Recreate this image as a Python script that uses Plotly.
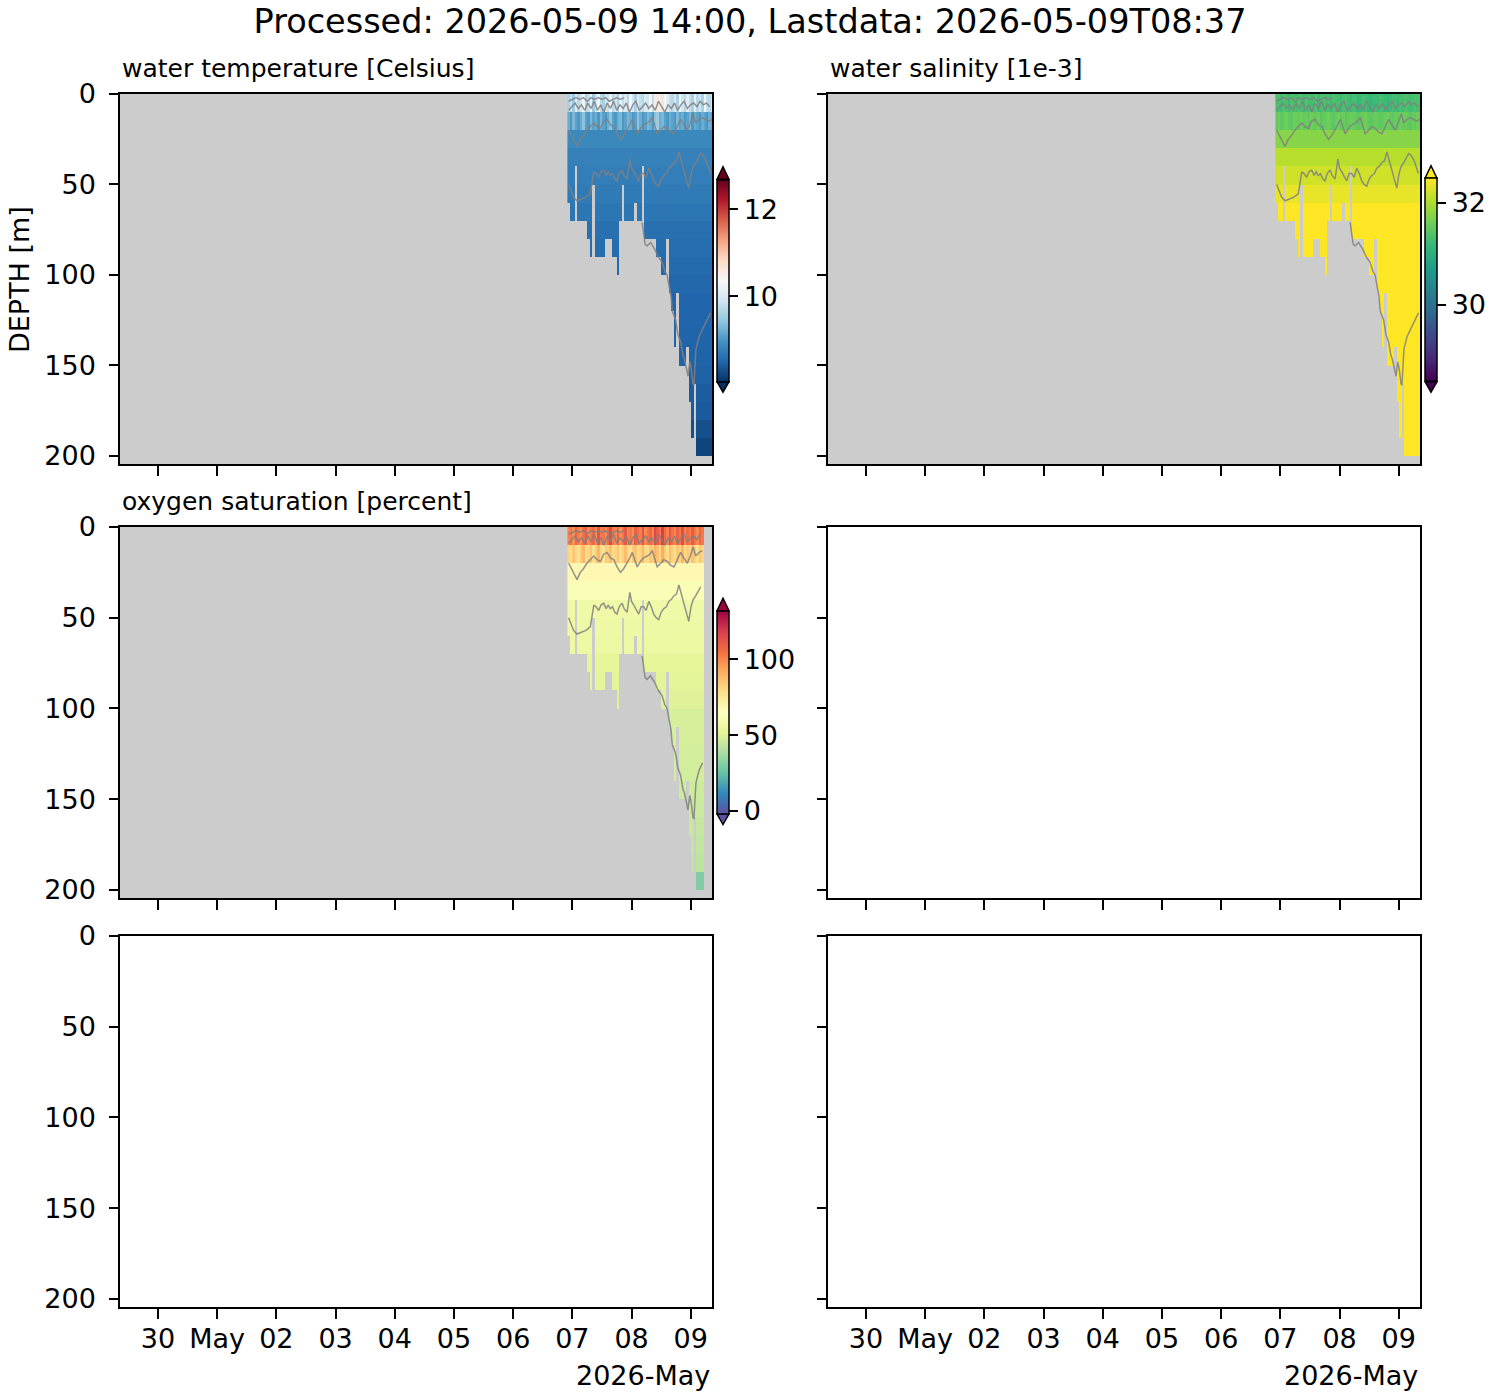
import pandas as pd
import plotly.graph_objects as go
import plotly.colors as pc

W, H = 1500, 1400

# profile columns: hours after 2026-05-06 00:00
profile_hours = [22.5, 23.5, 24.5, 25.5, 26.5, 27.5, 28.5, 29.5, 30.5, 31.5,
                 32.5, 33.5, 34.5, 35.5, 36.5, 37.5, 38.5, 39.5, 40.5, 41.5,
                 42.5, 43.5, 44.5, 45.5, 46.5, 47.5, 48.5, 49.5, 50.5, 51.5,
                 52.5, 53.5, 54.5, 55.5, 56.5, 57.5, 58.5, 59.5, 60.5, 61.5,
                 62.5, 63.5, 64.5, 65.5, 66.5, 67.5, 68.5, 69.5, 70.5, 71.5,
                 72.5, 73.5, 74.5, 75.5, 76.5, 77.5, 78.5, 79.5, 80.5]
profile_maxdepth = [60, 70, 70, 70, 70, 70, 70, 70, 80, 90,
                    90, 90, 90, 90, 90, 80, 80, 80, 90, 90,
                    100, 70, 70, 70, 70, 70, 70, 70, 70, 70,
                    80, 80, 80, 80, 80, 80, 90, 90, 100, 100,
                    110, 110, 120, 140, 140, 150, 150, 150, 150, 170,
                    190, 190, 200, 200, 200, 200, 200, 200, 200]
# profiles with missing data below a given depth (hour, depth)
gap_hours = [25.5, 32.5, 44.5, 49.5, 52.5, 62.5, 66.5, 70.5, 73.5]
gap_depths = [40, 50, 50, 55, 40, 80, 110, 140, 160]

depth_bins = [5, 15, 25, 35, 45, 55, 65, 75, 85, 95,
              105, 115, 125, 135, 145, 155, 165, 175, 185, 195]

# values by depth bin from 20 m down (first two bins come from the per-profile lists)
temp_by_depth = [None, None, 8.85, 8.78, 8.74, 8.7, 8.66, 8.6, 8.57, 8.54,
                 8.52, 8.5, 8.5, 8.48, 8.47, 8.45, 8.42, 8.4, 8.3, 8.2]
sal_by_depth = [None, None, 31.75, 32.05, 32.2, 32.35, 32.55, 32.7, 32.8, 32.9,
                33.0, 33.1, 33.2, 33.3, 33.4, 33.5, 33.6, 33.7, 33.8, 33.9]
oxy_by_depth = [None, None, 68, 62, 57, 56, 55, 52, 51, 50,
                48, 48, 47, 47, 46, 45, 44, 43, 42, 30]

# 0-10 m bin per profile
temp_surface = [9.6, 9.8, 9.5, 10.1, 9.7, 9.9, 10.3, 9.6, 9.8, 10.2,
                9.5, 9.9, 10.4, 9.7, 9.6, 10.0, 9.8, 10.3, 9.7, 9.9,
                9.6, 10.2, 9.8, 10.0, 9.7, 10.4, 9.9, 9.6, 10.1, 9.8,
                9.7, 10.0, 9.9, 10.3, 9.8, 10.5, 10.6, 10.2, 10.7, 10.4,
                10.1, 9.8, 9.7, 10.0, 9.6, 10.3, 9.9, 9.7, 10.1, 9.8,
                9.6, 10.2, 9.7, 9.9, 9.6, 10.3, 9.8, 9.7, 9.9]
sal_surface = [31.3, 31.35, 31.25, 31.4, 31.3, 31.2, 31.35, 31.3, 31.25, 31.4,
               31.3, 31.2, 31.35, 31.3, 31.25, 31.3, 31.4, 31.2, 31.3, 31.35,
               31.25, 31.3, 31.2, 31.35, 31.3, 31.25, 31.2, 31.3, 31.35, 31.25,
               31.2, 31.3, 31.25, 31.15, 31.2, 31.3, 31.25, 31.2, 31.15, 31.2,
               31.25, 31.2, 31.3, 31.25, 31.2, 31.15, 31.2, 31.3, 31.25, 31.2,
               31.3, 31.25, 31.35, 31.3, 31.25, 31.3, 31.35, 31.3, 31.3]
oxy_surface = [100, 104, 98, 108, 102, 97, 105, 110, 99, 103,
               107, 98, 112, 101, 104, 99, 106, 115, 102, 100,
               108, 97, 104, 111, 100, 103, 98, 109, 105, 101,
               113, 99, 104, 107, 100, 116, 110, 103, 118, 106,
               101, 112, 104, 99, 108, 103, 114, 100, 106, 102,
               110, 104, 99, 107, 103, None, None, None, None]
# 10-20 m bin per profile
temp_second = [9.2, 9.0, 9.3, 9.1, 9.0, 9.2, 9.4, 9.1, 9.0, 9.3,
               9.1, 9.2, 9.0, 9.3, 9.1, 9.0, 9.2, 9.4, 9.1, 9.0,
               9.2, 9.3, 9.0, 9.1, 9.3, 9.2, 9.0, 9.1, 9.4, 9.2,
               9.0, 9.1, 9.3, 9.2, 9.0, 9.4, 9.5, 9.2, 9.3, 9.1,
               9.0, 9.2, 9.1, 9.0, 9.3, 9.1, 9.2, 9.0, 9.1, 9.3,
               9.0, 9.2, 9.1, 9.0, 9.2, 9.1, 9.0, 9.2, 9.1]
sal_second = [31.5, 31.6, 31.45, 31.55, 31.6, 31.5, 31.45, 31.6, 31.55, 31.5,
              31.6, 31.5, 31.55, 31.45, 31.6, 31.5, 31.55, 31.6, 31.45, 31.5,
              31.55, 31.6, 31.5, 31.45, 31.55, 31.6, 31.5, 31.55, 31.45, 31.5,
              31.6, 31.55, 31.5, 31.45, 31.5, 31.55, 31.6, 31.5, 31.45, 31.5,
              31.55, 31.5, 31.45, 31.5, 31.55, 31.6, 31.5, 31.45, 31.55, 31.5,
              31.6, 31.5, 31.55, 31.5, 31.45, 31.55, 31.5, 31.6, 31.5]
oxy_second = [82, 78, 85, 80, 77, 84, 88, 79, 81, 86,
              78, 83, 90, 80, 77, 84, 82, 87, 79, 81,
              85, 78, 83, 88, 80, 77, 84, 86, 79, 82,
              89, 80, 78, 85, 83, 91, 87, 80, 92, 84,
              79, 88, 82, 78, 85, 81, 90, 79, 84, 80,
              87, 82, 78, 85, 81, None, None, None, None]

# gray contour lines (hours, depth)
line_a_h = [22.5, 23.5, 24.5, 25.9, 27.5, 29.5, 31.3, 32.0, 32.7, 33.6,
            34.7, 35.6, 36.7, 37.7, 38.5, 39.4, 40.3, 41.2, 42.1, 43.0,
            44.2, 45.0, 46.2, 47.3, 48.0, 48.9, 49.8, 50.9, 51.9, 52.9,
            53.9, 55.0, 56.0, 57.0, 58.0, 59.0, 60.0, 61.1, 62.1, 63.1,
            64.1, 65.1, 66.2, 67.2, 68.2, 69.2, 70.2, 71.2, 72.1, 73.0,
            74.0, 75.0, 76.0, 77.0, 78.0, 79.0, 80.0]
line_a_d = [50, 53, 57, 59, 58, 57, 55, 48, 43, 44,
            46, 43, 42, 45, 43, 45, 44, 47, 48, 44,
            42, 45, 47, 36, 41, 43, 45, 48, 44, 44,
            46, 41, 44, 48, 50, 51, 47, 45, 44, 41,
            40, 38, 37, 32, 37, 42, 47, 52, 44, 40,
            38, 35, 33, 34, 36, 40, 44]
line_b_h = [22.5, 24.0, 25.9, 27.2, 28.5, 29.9, 31.3, 32.7, 34.0, 35.4,
            36.7, 38.1, 39.4, 40.8, 42.1, 43.5, 44.8, 46.2, 47.3, 48.3,
            49.3, 50.3, 51.6, 52.9, 54.4, 55.4, 56.4, 57.4, 58.4, 59.8,
            61.1, 62.5, 63.8, 65.2, 66.5, 67.9, 69.2, 70.6, 71.8, 73.0,
            74.0, 75.4, 76.7, 78.0, 79.4, 80.5]
line_b_d = [20, 24, 29, 25, 23, 20, 18, 16, 18, 19,
            15, 14, 17, 18, 22, 25, 23, 20, 17, 14,
            18, 22, 19, 17, 16, 15, 13, 17, 22, 20,
            18, 19, 21, 22, 18, 14, 17, 20, 16, 11,
            16, 14, 13, 14, 15, 14]
line_c_h = [22.5, 23.8, 25.1, 26.4, 27.7, 29.0, 30.3, 31.6, 32.9, 34.2,
            35.5, 36.8, 38.1, 39.4, 40.7, 42.0, 43.3, 44.6, 45.9, 47.2,
            48.5, 49.8, 51.1, 52.4, 53.7, 55.0, 56.3, 57.6, 58.9, 60.2,
            61.5, 62.8, 64.1, 65.4, 66.7, 68.0, 69.3, 70.6, 71.9, 73.2,
            74.5, 75.8, 77.1, 78.4, 79.7]
line_c_d = [9, 7, 5, 8, 6, 9, 5, 8, 4, 9,
            6, 10, 5, 8, 4, 9, 6, 8, 5, 10,
            6, 4, 9, 7, 5, 8, 6, 9, 4, 7,
            10, 6, 8, 5, 9, 6, 4, 8, 6, 5,
            7, 4, 6, 5, 7]
line_d_h = [22.5, 24.0, 25.5, 27.0, 28.5, 30.0, 31.5, 33.0, 34.5, 36.0,
            37.5, 39.0, 40.5, 42.0, 43.5, 45.0]
line_d_d = [4, 3, 2, 3, 2, 4, 2, 3, 2, 3, 2, 4, 3, 2, 3, 2]
line_e_h = [52.3, 52.9, 53.5, 54.3, 55.7, 57.5, 58.8, 60.4, 61.5, 62.4,
            63.2, 64.0, 64.5, 65.9, 66.8, 67.9, 68.9, 69.3, 70.3, 70.9,
            71.6, 72.3, 72.9, 73.3, 74.1, 75.4, 76.8, 78.1, 80.0]
line_e_d = [71, 76, 83, 84, 82, 86, 90, 93, 98, 100,
            106, 112, 120, 125, 133, 137, 145, 146, 152, 156,
            148, 153, 160, 161, 141, 134, 130, 126, 121]
contour_lines = [(line_a_h, line_a_d), (line_b_h, line_b_d), (line_c_h, line_c_d),
                 (line_d_h, line_d_d), (line_e_h, line_e_d)]
oxy_end_hour = 76.9

tick_dates = ["2026-04-30", "2026-05-01", "2026-05-02", "2026-05-03", "2026-05-04",
              "2026-05-05", "2026-05-06", "2026-05-07", "2026-05-08", "2026-05-09"]
tick_text = ["30", "May", "02", "03", "04", "05", "06", "07", "08", "09"]
x_range = ["2026-04-29 08:37", "2026-05-09 08:37"]

base = pd.Timestamp("2026-05-06")
FONT = "DejaVu Sans"
TICK_SIZE = 27


def to_time(hours):
    return base + pd.to_timedelta(hours, unit="h")


def build_z(surface, second, by_depth):
    gaps = dict(zip(gap_hours, gap_depths))
    z = []
    for i, d in enumerate(depth_bins):
        row = []
        for j, md in enumerate(profile_maxdepth):
            gap = gaps.get(profile_hours[j], 999)
            if surface[j] is None or d > md or d > gap:
                row.append(None)
            elif i == 0:
                row.append(surface[j])
            elif i == 1:
                row.append(second[j])
            else:
                row.append(by_depth[i])
        z.append(row)
    return z


def px_x(p):
    return p / W


def px_y(p):
    return 1 - p / H


fig = go.Figure()
times = to_time(profile_hours)

panels = [
    ("x", "y", temp_surface, temp_second, temp_by_depth, pc.diverging.RdBu_r, 8.03, 12.69, [10, 12],
     717, 179.3, 381.7, 999),
    ("x2", "y2", sal_surface, sal_second, sal_by_depth, pc.sequential.Viridis, 28.5, 32.48, [30, 32],
     1425, 178.3, 381.7, 999),
    ("x3", "y3", oxy_surface, oxy_second, oxy_by_depth, pc.diverging.Spectral_r, -2, 132, [0, 50, 100],
     717, 610.7, 814, oxy_end_hour),
]

shapes = []
for xa, ya, surf, sec, byd, cs, zmin, zmax, cticks, cbx, cbtop, cbbot, tend in panels:
    fig.add_trace(go.Heatmap(
        x=times, y=depth_bins, z=build_z(surf, sec, byd), xaxis=xa, yaxis=ya,
        colorscale=cs, zmin=zmin, zmax=zmax, hoverongaps=False,
        colorbar=dict(x=px_x(cbx), xanchor="left", xpad=0, ypad=0,
                      y=px_y((cbtop + cbbot) / 2), yanchor="middle",
                      len=cbbot - cbtop, lenmode="pixels", thickness=12,
                      outlinewidth=1.5, outlinecolor="black",
                      ticks="outside", ticklen=9, tickwidth=1.5, tickcolor="black",
                      tickvals=cticks, tickprefix="\u00a0",
                      tickfont=dict(size=TICK_SIZE, color="black", family=FONT)),
    ))
    for lh, ld in contour_lines:
        keep = [(h, d) for h, d in zip(lh, ld) if h <= tend]
        fig.add_trace(go.Scatter(
            x=to_time([k[0] for k in keep]), y=[k[1] for k in keep],
            mode="lines", xaxis=xa, yaxis=ya, showlegend=False, hoverinfo="skip",
            line=dict(color="rgba(128,128,128,0.85)", width=1.5),
        ))
    # extend triangles of the colorbar
    x0, x1 = px_x(cbx), px_x(cbx + 12)
    xm = px_x(cbx + 6)
    shapes.append(dict(type="path", xref="paper", yref="paper",
                       path=f"M {x0},{px_y(cbtop)} L {xm},{px_y(cbtop - 12.5)} L {x1},{px_y(cbtop)} Z",
                       fillcolor=cs[-1], line=dict(color="black", width=1.5)))
    shapes.append(dict(type="path", xref="paper", yref="paper",
                       path=f"M {x0},{px_y(cbbot)} L {xm},{px_y(cbbot + 10.5)} L {x1},{px_y(cbbot)} Z",
                       fillcolor=cs[0], line=dict(color="black", width=1.5)))

# empty panels still need a trace so their axes are drawn
for n in ["4", "5", "6"]:
    fig.add_trace(go.Scatter(x=[None], y=[None], xaxis=f"x{n}", yaxis=f"y{n}",
                             showlegend=False, hoverinfo="skip"))

col_x = [(120, 712), (828, 1420)]
row_y = [(94, 464), (527, 898), (936, 1307)]
font = dict(family=FONT, size=TICK_SIZE, color="black")
axis_style = dict(showline=True, linecolor="black", linewidth=1.5, mirror=True,
                  ticks="outside", tickwidth=1.5, tickcolor="black",
                  showgrid=False, zeroline=False, tickfont=font, automargin=False)

layout_axes = {}
for k in range(6):
    r, c = divmod(k, 2)
    n = "" if k == 0 else str(k + 1)
    layout_axes[f"xaxis{n}"] = dict(
        axis_style, type="date", range=x_range, tickvals=tick_dates, ticktext=tick_text,
        domain=[px_x(col_x[c][0]), px_x(col_x[c][1])], anchor=f"y{n}",
        showticklabels=(r == 2), ticklen=10, ticklabelstandoff=-3)
    layout_axes[f"yaxis{n}"] = dict(
        axis_style, range=[204.5, 0], tickvals=[0, 50, 100, 150, 200],
        domain=[px_y(row_y[r][1]), px_y(row_y[r][0])], anchor=f"x{n}",
        showticklabels=(c == 0), ticklen=9, ticklabelstandoff=8)

annotations = [
    dict(text="water temperature [Celsius]", x=px_x(120), y=px_y(69)),
    dict(text="water salinity [1e-3]", x=px_x(828), y=px_y(69)),
    dict(text="oxygen saturation [percent]", x=px_x(120), y=px_y(502)),
]
for a in annotations:
    a.update(xref="paper", yref="paper", xanchor="left", yanchor="middle",
             showarrow=False, font=dict(family=FONT, size=25, color="black"))
for xr in (712, 1420):
    annotations.append(dict(text="2026-May", x=px_x(xr), y=px_y(1375), xref="paper", yref="paper",
                            xanchor="right", yanchor="middle", showarrow=False, font=font))
annotations.append(dict(text="DEPTH [m]", x=px_x(20), y=px_y(280), xref="paper", yref="paper",
                        xanchor="center", yanchor="middle", textangle=-90, showarrow=False, font=font))

fig.update_layout(
    template="none",
    width=W, height=H, margin=dict(l=0, r=0, t=0, b=0, autoexpand=False),
    paper_bgcolor="white", plot_bgcolor="white", font=font, showlegend=False,
    title=dict(text="Processed: 2026-05-09 14:00, Lastdata: 2026-05-09T08:37",
               x=0.5, xanchor="center", y=px_y(21), yanchor="middle",
               font=dict(family=FONT, size=33.5, color="black")),
    annotations=annotations, shapes=shapes,
    **layout_axes,
)
# gray background on the data panels
for n in ["", "2", "3"]:
    fig.add_shape(type="rect", xref=f"x{n} domain", yref=f"y{n} domain", x0=0, x1=1, y0=0, y1=1,
                  fillcolor="#cccccc", line=dict(width=0), layer="below")

fig.write_html("out.html", config={"displayModeBar": False},
               post_script="document.body.style.margin='0';")
